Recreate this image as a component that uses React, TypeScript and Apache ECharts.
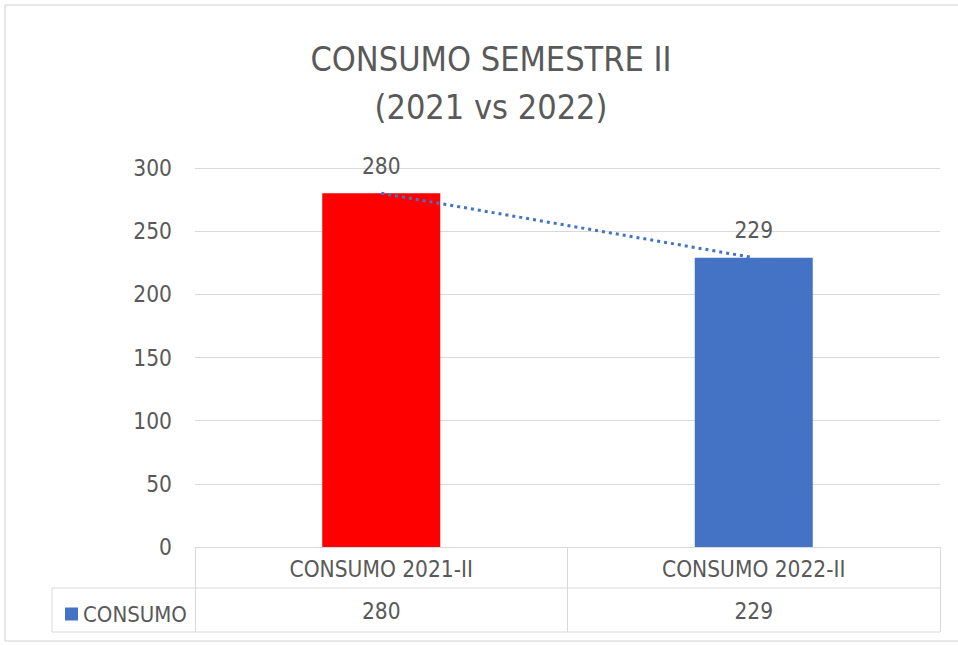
import React, { useEffect, useRef } from "react";
import * as echarts from "echarts";

const categories = ["CONSUMO 2021-II", "CONSUMO 2022-II"];
const values = [280, 229];
const seriesName = "CONSUMO";
const barColors = ["#FF0000", "#4472C4"];
const yTicks = { min: 0, max: 300, interval: 50 };
const titleLines = ["CONSUMO SEMESTRE II", "(2021 vs 2022)"];

const FONT = "'Liberation Sans Narrow', 'DejaVu Sans Condensed', 'Open Sans', sans-serif";
const TXT = "#595959";
const LINE = "#d9d9d9";

export default function App() {
  const ref = useRef<HTMLDivElement>(null);
  useEffect(() => {
    if (!ref.current) return;
    const chart = echarts.init(ref.current, undefined, { renderer: "svg" });
    const gridL = 195, gridR = 18, gridT = 168, gridB = 98;
    const axisY = 645 - gridB;
    const row2Y = 588, row3Y = 632, legendLeft = 52, rightX = 958 - gridR;
    chart.setOption({
      animation: false,
      backgroundColor: "#ffffff",
      textStyle: { fontFamily: FONT },
      title: {
        text: titleLines.join("\n"),
        left: 486,
        textAlign: "center",
        top: 30,
        textStyle: { fontFamily: FONT, fontSize: 34, lineHeight: 48, fontWeight: "normal", color: TXT },
      },
      legend: {
        data: [seriesName],
        left: 60,
        top: 598,
        icon: "rect",
        itemWidth: 13,
        itemHeight: 13,
        itemGap: 6,
        textStyle: { fontFamily: FONT, fontSize: 22, color: TXT, padding: [0, 0, 0, 0] },
      },
      grid: { left: gridL, right: gridR, top: gridT, bottom: gridB },
      xAxis: [
        {
          type: "category",
          data: categories,
          axisLine: { show: true, lineStyle: { color: LINE, width: 1 } },
          axisTick: { show: true, length: row3Y - axisY, lineStyle: { color: LINE } },
          axisLabel: { fontFamily: FONT, fontSize: 22.5, color: TXT, margin: 10 },
        },
        {
          type: "category",
          position: "bottom",
          data: values.map(String),
          axisLine: { show: false },
          axisTick: { show: false },
          axisLabel: { fontFamily: FONT, fontSize: 22.5, color: TXT, margin: 52 },
        },
      ],
      yAxis: {
        type: "value",
        min: yTicks.min,
        max: yTicks.max,
        interval: yTicks.interval,
        axisLine: { show: false },
        axisTick: { show: false },
        axisLabel: { fontFamily: FONT, fontSize: 22.5, color: TXT, margin: 23 },
        splitLine: { lineStyle: { color: LINE, width: 1 } },
      },
      series: [
        {
          name: seriesName,
          type: "bar",
          barWidth: 118,
          itemStyle: { color: barColors[1] },
          data: values.map((v, i) => ({ value: v, itemStyle: { color: barColors[i] } })),
          label: { show: true, position: "top", distance: 16, fontFamily: FONT, fontSize: 22.5, color: TXT },
        },
        {
          name: "trend",
          type: "line",
          data: values,
          symbol: "none",
          z: 5,
          lineStyle: { color: "#4472C4", width: 3, type: [3, 4] },
        },
      ],
      graphic: [
        {
          type: "rect",
          shape: { x: 5, y: 5, width: 970, height: 636 },
          style: { fill: "none", stroke: "#d0d0d0", lineWidth: 1 },
          silent: true,
        },
        {
          type: "line",
          shape: { x1: legendLeft, y1: row2Y, x2: rightX, y2: row2Y },
          style: { stroke: LINE, lineWidth: 1 },
        },
        {
          type: "line",
          shape: { x1: legendLeft, y1: row3Y, x2: rightX, y2: row3Y },
          style: { stroke: LINE, lineWidth: 1 },
        },
        {
          type: "line",
          shape: { x1: legendLeft, y1: row2Y, x2: legendLeft, y2: row3Y },
          style: { stroke: LINE, lineWidth: 1 },
        },
      ],
    });
    return () => chart.dispose();
  }, []);
  return (
    <div
      ref={ref}
      style={{ position: "fixed", left: 0, top: 0, width: 958, height: 645 }}
    />
  );
}
